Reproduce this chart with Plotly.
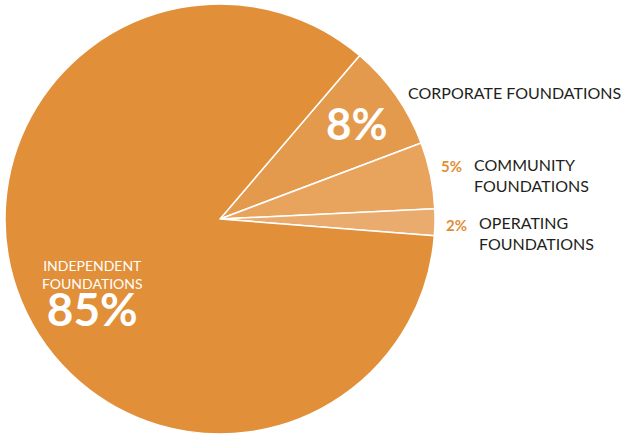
import plotly.graph_objects as go

categories = ["Corporate Foundations", "Community Foundations", "Operating Foundations", "Independent Foundations"]
values = [8, 5, 2, 85]
colors = ["#E49A4C", "#E8A35C", "#EAAC6E", "#E18F38"]

W, H = 626, 437
cx, cy, r = 220, 219, 215

fig = go.Figure(go.Pie(
    labels=categories, values=values, sort=False, direction="clockwise",
    rotation=40.5, textinfo="none", hoverinfo="label+percent",
    marker=dict(colors=colors, line=dict(color="white", width=1.5)),
    domain=dict(x=[(cx - r) / W, (cx + r) / W], y=[(H - cy - r) / H, (H - cy + r) / H]),
    showlegend=False,
))

FONT = "Lato"
DARK = "#231F20"
ORANGE = "#E08E35"

def ann(x, y, text, size, color, bold=False, xanchor="left", align="left", yanchor="middle"):
    t = f"<b>{text}</b>" if bold else text
    fig.add_annotation(x=x / W, y=1 - y / H, xref="paper", yref="paper", text=t,
                       showarrow=False, xanchor=xanchor, yanchor=yanchor, align=align,
                       font=dict(family=FONT, size=size, color=color))

ann(406, 93, "CORPORATE FOUNDATIONS", 16, DARK)
ann(357, 123, f"{values[0]}%", 44, "white", bold=True, xanchor="center")
ann(439, 166, f"{values[1]}%", 15, ORANGE, bold=True)
ann(472, 175, "COMMUNITY<br>FOUNDATIONS", 16, DARK)
ann(444, 225, f"{values[2]}%", 15, ORANGE, bold=True)
ann(477, 233, "OPERATING<br>FOUNDATIONS", 16, DARK)
ann(92, 255,
    f"INDEPENDENT<br>FOUNDATIONS<br><br><span style='font-size:46px'><b>{values[3]}%</b></span>",
    14, "white", xanchor="center", align="center", yanchor="top")

fig.update_layout(width=W, height=H, margin=dict(l=0, r=0, t=0, b=0),
                  paper_bgcolor="white", plot_bgcolor="white")
fig.write_html("out.html", config={"displayModeBar": False},
               post_script="document.body.style.margin='0';")
